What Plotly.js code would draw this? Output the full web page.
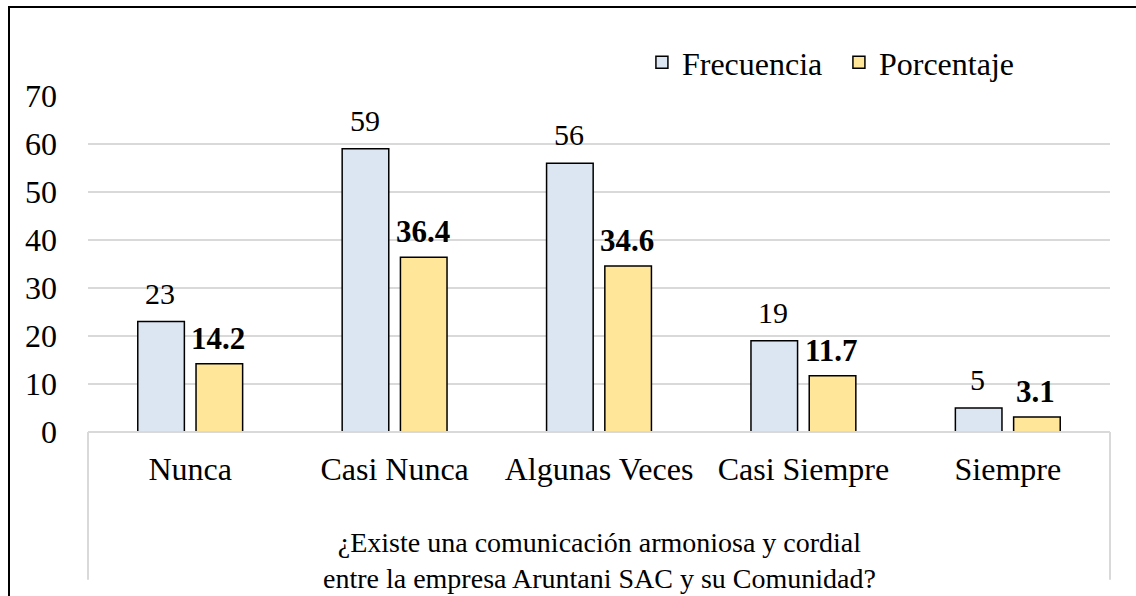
<!DOCTYPE html>
<html><head><meta charset="utf-8">
<script src="https://cdn.plot.ly/plotly-3.0.1.min.js"></script>
<style>html,body{margin:0;padding:0;background:#fff}#wrap{position:relative;width:1136px;height:596px}#chart{width:1136px;height:596px}#frame{position:absolute;left:8px;top:6px;width:1140px;height:600px;border:2px solid #000;box-sizing:border-box;pointer-events:none}</style>
</head><body><div id="wrap"><div id="chart"></div><div id="frame"></div></div>
<script>
const categories = ["Nunca", "Casi Nunca", "Algunas Veces", "Casi Siempre", "Siempre"];
const frecuencia = [23, 59, 56, 19, 5];
const porcentaje = [14.2, 36.4, 34.6, 11.7, 3.1];
const yTicks = [0, 10, 20, 30, 40, 50, 60, 70];
const xTitleLines = ["¿Existe una comunicación armoniosa y cordial", "entre la empresa Aruntani SAC y su Comunidad?"];

const font = "Liberation Serif";
const FS = 32;
const traces = [
  {type: "bar", name: "Frecuencia", x: categories, y: frecuencia,
   marker: {color: "#DCE6F2", line: {color: "#000", width: 1.5}}, hoverinfo: "skip"},
  {type: "bar", name: "Porcentaje", x: categories, y: porcentaje,
   marker: {color: "#FFE699", line: {color: "#000", width: 1.5}}, hoverinfo: "skip"}
];
const annotations = [];
categories.forEach((c, i) => {
  annotations.push({x: c, y: frecuencia[i], xref: "x", yref: "y", text: String(frecuencia[i]),
    showarrow: false, xanchor: "center", yanchor: "bottom", xshift: -30, yshift: 10,
    font: {family: font, size: 30, color: "#000"}});
  annotations.push({x: c, y: porcentaje[i], xref: "x", yref: "y", text: "<b>" + porcentaje[i].toFixed(1) + "</b>",
    showarrow: false, xanchor: "center", yanchor: "bottom", xshift: 28, yshift: 6,
    font: {family: font, size: 31, color: "#000"}});
});
annotations.push({x: 0.5, y: -0.381, xref: "paper", yref: "paper", text: xTitleLines.join("<br>"),
  showarrow: false, xanchor: "center", yanchor: "middle", align: "center",
  font: {family: font, size: 28, color: "#000"}});

const layout = {
  width: 1136, height: 596,
  margin: {l: 88, r: 26, t: 96, b: 164},
  paper_bgcolor: "#fff", plot_bgcolor: "#fff",
  font: {family: font, size: FS, color: "#000"},
  barmode: "group", bargap: 0.43, bargroupgap: 0.2,
  showlegend: true,
  legend: {orientation: "h", x: 0.542, xanchor: "left", y: 1.1, yanchor: "middle",
    font: {family: font, size: FS, color: "#000"}, itemwidth: 30, traceorder: "normal",
    entrywidth: 152},
  xaxis: {type: "category", showgrid: false, ticks: "", showline: false, zeroline: false,
    tickfont: {family: font, size: FS, color: "#000"}, ticklabelstandoff: 15},
  yaxis: {range: [0, 70], tickvals: yTicks, showgrid: true, gridcolor: "#D9D9D9", gridwidth: 2,
    zeroline: false, showline: false, ticks: "", ticklabelstandoff: 30,
    tickfont: {family: font, size: FS, color: "#000"}},
  annotations: annotations,
  shapes: [
    {type: "line", xref: "paper", yref: "paper", x0: 0, x1: 1, y0: 0, y1: 0, line: {color: "#D9D9D9", width: 2}},
    {type: "line", xref: "paper", yref: "paper", x0: 0, x1: 0, y0: 0, y1: -0.44, line: {color: "#D9D9D9", width: 2}},
    {type: "line", xref: "paper", yref: "paper", x0: 1, x1: 1, y0: 0, y1: -0.44, line: {color: "#D9D9D9", width: 2}}
  ]
};
Plotly.newPlot("chart", traces, layout, {displayModeBar: false, staticPlot: true});
</script></body></html>
